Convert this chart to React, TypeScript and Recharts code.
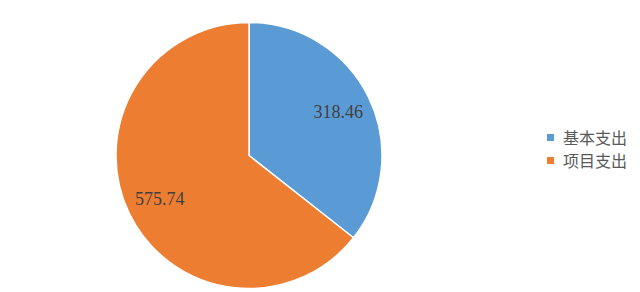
import { PieChart, Pie, Cell, Legend } from "recharts";

const categories = ["基本支出", "项目支出"];
const values = [318.46, 575.74];
const colors = ["#5b9bd5", "#ed7d31"];

const data = categories.map((name, i) => ({ name, value: values[i] }));

const RAD = Math.PI / 180;

function renderLabel(props: any) {
  const { cx, cy, midAngle, outerRadius, value } = props;
  const r = outerRadius * 0.745;
  const x = cx + r * Math.cos(-midAngle * RAD);
  const y = cy + r * Math.sin(-midAngle * RAD);
  return (
    <text
      x={x}
      y={y}
      textAnchor="middle"
      dominantBaseline="central"
      fill="#404040"
      fontFamily="'Liberation Serif', 'DejaVu Serif', serif"
      fontSize={18}
    >
      {value.toFixed(2)}
    </text>
  );
}

function LegendBox() {
  return (
    <div style={{ fontFamily: "'Noto Sans CJK SC', sans-serif", fontSize: 16, color: "#595959" }}>
      {data.map((d, i) => (
        <div key={d.name} style={{ display: "flex", alignItems: "center", height: 23 }}>
          <span
            style={{
              display: "inline-block",
              width: 7,
              height: 7,
              background: colors[i],
              marginRight: 9,
            }}
          />
          <span style={{ lineHeight: "23px" }}>{d.name}</span>
        </div>
      ))}
    </div>
  );
}

export default function App() {
  return (
    <div style={{ position: "fixed", left: 0, top: 0, width: 640, height: 292, background: "#fff" }}>
      <PieChart width={640} height={292} margin={{ top: 0, right: 0, bottom: 0, left: 0 }}>
        <Pie
          data={data}
          dataKey="value"
          nameKey="name"
          cx={249}
          cy={155.5}
          outerRadius={133}
          startAngle={90}
          endAngle={-270}
          stroke="#ffffff"
          strokeWidth={1.5}
          label={renderLabel}
          labelLine={false}
          isAnimationActive={false}
        >
          {data.map((d, i) => (
            <Cell key={d.name} fill={colors[i]} />
          ))}
        </Pie>
        <Legend
          content={<LegendBox />}
          wrapperStyle={{ position: "absolute", left: 547, top: 126, width: 90 }}
        />
      </PieChart>
    </div>
  );
}
